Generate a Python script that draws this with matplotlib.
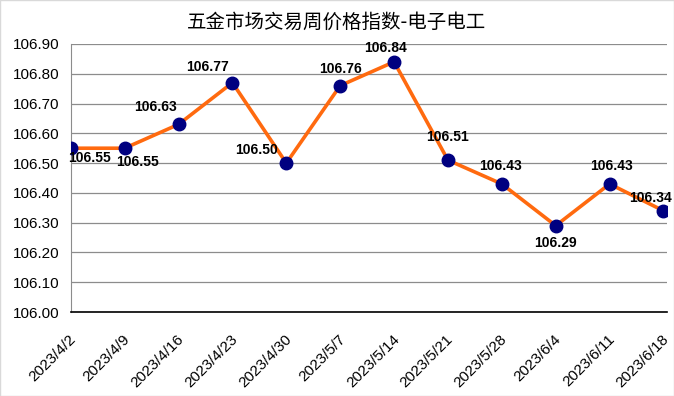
import matplotlib.pyplot as plt
from matplotlib.patches import Rectangle
from matplotlib.transforms import ScaledTranslation

# 数据
dates = ["2023/4/2", "2023/4/9", "2023/4/16", "2023/4/23", "2023/4/30", "2023/5/7",
         "2023/5/14", "2023/5/21", "2023/5/28", "2023/6/4", "2023/6/11", "2023/6/18"]
values = [106.55, 106.55, 106.63, 106.77, 106.50, 106.76,
          106.84, 106.51, 106.43, 106.29, 106.43, 106.34]
# 标签偏移（像素）
label_offsets = [(19, -10), (13, -14), (-23, 17), (-25, 16), (-30, 13), (0, 17),
                 (-9, 14), (0, 23), (-1, 18), (0, -17), (2, 18), (-13, 13)]
yticks = [106.00 + 0.1 * i for i in range(10)]

plt.rcParams['font.family'] = ['Liberation Sans', 'Noto Sans CJK SC', 'DejaVu Sans']

fig = plt.figure(figsize=(6.74, 3.96), dpi=100)
ax = fig.add_axes([0.105, 0.212, 0.885, 0.677])

x = list(range(len(dates)))
ax.plot(x, values, color='#FF6A0F', linewidth=2.6, zorder=2)
ax.plot(x, values, 'o', color='#000080', markersize=9, zorder=3)

for xi, v, (dx, dy) in zip(x, values, label_offsets):
    ax.annotate(f"{v:.2f}", (xi, v), xytext=(dx, dy), textcoords='offset pixels',
                ha='center', va='center', fontsize=10, fontweight='bold', zorder=4)

ax.set_ylim(106.0, 106.9)
ax.set_yticks(yticks)
ax.set_yticklabels([f"{t:.2f}" for t in yticks], fontsize=11)
ax.set_xlim(0, len(dates) - 1 + 0.07)
ax.set_xticks(x)
ax.set_xticklabels(dates, rotation=45, ha='right', va='center', rotation_mode='anchor', fontsize=11)
ax.tick_params(axis='y', length=0, pad=8)
ax.tick_params(axis='x', length=0, pad=18)
shift = ScaledTranslation(3 / 100, 0, fig.dpi_scale_trans)
for lab in ax.get_xticklabels():
    lab.set_transform(lab.get_transform() + shift)

ax.grid(axis='y', color='#8c8c8c', linewidth=0.9)
ax.set_axisbelow(True)
for s in ['top', 'right']:
    ax.spines[s].set_visible(False)
ax.spines['left'].set_color('#8c8c8c')
ax.spines['bottom'].set_color('black')
ax.spines['bottom'].set_linewidth(1.2)

fig.text(0.5, 0.944, "五金市场交易周价格指数-电子电工", ha='center', va='center',
         fontsize=14, family=['Noto Sans CJK SC', 'DejaVu Sans'])
fig.patches.append(Rectangle((0, 0), 1, 1, transform=fig.transFigure, fill=False,
                             edgecolor='#d9d9d9', linewidth=1))

fig.savefig("out.png", dpi=100)
